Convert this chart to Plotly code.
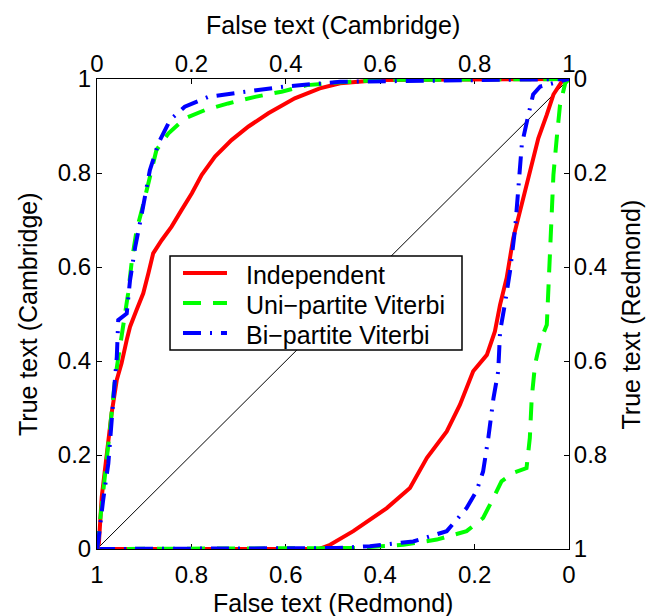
import plotly.graph_objects as go

# ---- data (Cambridge curves: top x-axis, left y-axis) ----
cam_ind_x = [0, 0.004, 0.010, 0.020, 0.031, 0.042, 0.052, 0.063, 0.070, 0.084, 0.098, 0.109, 0.119, 0.137, 0.158, 0.179, 0.201, 0.222, 0.250, 0.285, 0.321, 0.363, 0.419, 0.472, 0.515, 0.60, 1.0]
cam_ind_y = [0, 0.012, 0.111, 0.204, 0.289, 0.360, 0.395, 0.445, 0.473, 0.509, 0.544, 0.587, 0.629, 0.657, 0.686, 0.721, 0.757, 0.796, 0.835, 0.870, 0.899, 0.927, 0.959, 0.980, 0.991, 0.998, 1.0]

cam_uni_x = [0, 0.006, 0.017, 0.028, 0.038, 0.049, 0.056, 0.066, 0.074, 0.084, 0.095, 0.109, 0.126, 0.151, 0.186, 0.229, 0.278, 0.335, 0.391, 0.445, 0.515, 0.60, 1.0]
cam_uni_y = [0, 0.055, 0.147, 0.260, 0.360, 0.430, 0.487, 0.544, 0.615, 0.679, 0.721, 0.778, 0.849, 0.884, 0.916, 0.934, 0.948, 0.962, 0.973, 0.987, 0.993, 0.998, 1.0]

cam_bi_x = [0, 0.003, 0.013, 0.024, 0.035, 0.042, 0.045, 0.063, 0.070, 0.081, 0.095, 0.112, 0.130, 0.155, 0.186, 0.236, 0.314, 0.398, 0.466, 0.515, 1.0]
cam_bi_y = [0, 0.019, 0.104, 0.182, 0.324, 0.409, 0.487, 0.501, 0.572, 0.643, 0.714, 0.806, 0.863, 0.913, 0.941, 0.962, 0.973, 0.984, 0.990, 0.994, 1.0]

# ---- data (Redmond curves: bottom x-axis reversed, right y-axis reversed) ----
red_ind_x = [1.0, 0.53, 0.506, 0.457, 0.386, 0.337, 0.301, 0.259, 0.231, 0.203, 0.174, 0.157, 0.146, 0.132, 0.118, 0.104, 0.090, 0.076, 0.065, 0.047, 0.033, 0.015, 0]
red_ind_y = [1.0, 1.0, 0.991, 0.962, 0.913, 0.870, 0.806, 0.750, 0.693, 0.622, 0.587, 0.537, 0.480, 0.423, 0.338, 0.281, 0.232, 0.175, 0.126, 0.076, 0.033, 0.005, 0]

red_uni_x = [1.0, 0.50, 0.457, 0.351, 0.280, 0.217, 0.182, 0.160, 0.143, 0.118, 0.090, 0.083, 0.079, 0.072, 0.061, 0.047, 0.044, 0.040, 0.037, 0.033, 0.026, 0.019, 0.008, 0]
red_uni_y = [1.0, 1.0, 0.998, 0.991, 0.980, 0.962, 0.934, 0.891, 0.856, 0.838, 0.828, 0.764, 0.679, 0.608, 0.558, 0.523, 0.452, 0.367, 0.281, 0.204, 0.126, 0.055, 0.009, 0]

red_bi_x = [1.0, 0.52, 0.492, 0.422, 0.330, 0.259, 0.217, 0.196, 0.182, 0.171, 0.160, 0.150, 0.146, 0.136, 0.125, 0.114, 0.107, 0.100, 0.086, 0.076, 0.061, 0.019, 0]
red_bi_y = [1.0, 1.0, 0.998, 0.994, 0.984, 0.962, 0.913, 0.877, 0.835, 0.764, 0.679, 0.622, 0.537, 0.480, 0.409, 0.317, 0.232, 0.140, 0.076, 0.033, 0.016, 0.005, 0]

# chance diagonal (in bottom/left axis frame)
diag_x = [1, 0]
diag_y = [0, 1]

tick_vals = [0, 0.2, 0.4, 0.6, 0.8, 1]
tick_text = ["0", "0.2", "0.4", "0.6", "0.8", "1"]

series_names = ["Independent", "Uni\u2212partite Viterbi", "Bi\u2212partite Viterbi"]
colors = ["#ff0000", "#00ff00", "#0000ff"]
dashes = ["solid", "18px,12px", "18px,9px,2px,9px"]

axis_titles = ["False text (Redmond)", "False text (Cambridge)",
               "True text (Cambridge)", "True text (Redmond)"]

FONT = "Liberation Sans, Arial, Helvetica, sans-serif"
FS = 24
TFS = 25

fig = go.Figure()

fig.add_trace(go.Scatter(x=diag_x, y=diag_y, xaxis="x", yaxis="y", mode="lines",
                         line=dict(color="black", width=1), showlegend=False,
                         hoverinfo="skip", cliponaxis=False))

cam = [(cam_ind_x, cam_ind_y), (cam_uni_x, cam_uni_y), (cam_bi_x, cam_bi_y)]
red = [(red_ind_x, red_ind_y), (red_uni_x, red_uni_y), (red_bi_x, red_bi_y)]

for i, (xs, ys) in enumerate(cam):
    fig.add_trace(go.Scatter(x=xs, y=ys, xaxis="x2", yaxis="y", mode="lines",
                             name=series_names[i], showlegend=False,
                             line=dict(color=colors[i], width=4, dash=dashes[i]),
                             cliponaxis=False))
for i, (xs, ys) in enumerate(red):
    fig.add_trace(go.Scatter(x=xs, y=ys, xaxis="x", yaxis="y2", mode="lines",
                             name=series_names[i], showlegend=False,
                             line=dict(color=colors[i], width=4, dash=dashes[i]),
                             cliponaxis=False))

axis_common = dict(tickvals=tick_vals, ticktext=tick_text, ticks="inside", ticklen=5,
                   tickcolor="black", showline=True, linecolor="black", linewidth=1,
                   showgrid=False, zeroline=False, automargin=False,
                   tickfont=dict(family=FONT, size=FS, color="black"),
                   layer="below traces")

# ---- manual legend box (paper coordinates) ----
lx0, lx1, ly0, ly1 = 0.1547, 0.7733, 0.4234, 0.6234
row_y = [0.587, 0.5234, 0.4596]
shapes = [dict(type="rect", xref="paper", yref="paper", x0=lx0, x1=lx1, y0=ly0, y1=ly1,
               line=dict(color="black", width=1.5), fillcolor="white", layer="above")]
annotations = []
for i in range(3):
    shapes.append(dict(type="line", xref="paper", yref="paper", x0=0.1822, x1=0.2754,
                       y0=row_y[i], y1=row_y[i],
                       line=dict(color=colors[i], width=4, dash=dashes[i]), layer="above"))
    annotations.append(dict(xref="paper", yref="paper", x=0.3114, y=row_y[i] - 0.004,
                            xanchor="left", yanchor="middle", showarrow=False,
                            text=series_names[i],
                            font=dict(family=FONT, size=TFS, color="black")))

# ---- axis titles as annotations ----
title_font = dict(family=FONT, size=TFS, color="black")
annotations += [
    dict(xref="paper", yref="paper", x=0.5, y=-0.114, text=axis_titles[0],
         xanchor="center", yanchor="middle", showarrow=False, font=title_font),
    dict(xref="paper", yref="paper", x=0.5, y=1.115, text=axis_titles[1],
         xanchor="center", yanchor="middle", showarrow=False, font=title_font),
    dict(xref="paper", yref="paper", x=-0.1462, y=0.5, text=axis_titles[2], textangle=-90,
         xanchor="center", yanchor="middle", showarrow=False, font=title_font),
    dict(xref="paper", yref="paper", x=1.1324, y=0.5, text=axis_titles[3], textangle=-90,
         xanchor="center", yanchor="middle", showarrow=False, font=title_font),
]

fig.update_layout(
    width=649, height=608,
    margin=dict(l=89, r=88, t=71, b=67),
    paper_bgcolor="white", plot_bgcolor="white",
    font=dict(family=FONT, size=FS, color="black"),
    xaxis=dict(range=[1, 0], side="bottom", anchor="y", ticklabelstandoff=4, **axis_common),
    xaxis2=dict(range=[0, 1], side="top", overlaying="x", anchor="y", ticklabelstandoff=-4,
                **axis_common),
    yaxis=dict(range=[0, 1], side="left", anchor="x", **axis_common),
    yaxis2=dict(range=[1, 0], side="right", overlaying="y", anchor="x", ticklabelstandoff=-1,
                **axis_common),
    shapes=shapes,
    annotations=annotations,
    showlegend=False,
)

fig.write_html("out.html")
